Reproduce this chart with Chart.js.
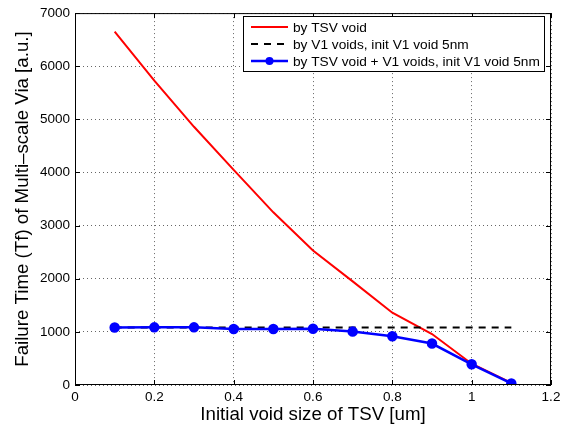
<!DOCTYPE html>
<html>
<head>
<meta charset="utf-8">
<script src="https://cdn.jsdelivr.net/npm/chart.js@4"></script>
<style>
  html, body { margin: 0; padding: 0; background: #fff; }
  #wrap { width: 569px; height: 427px; }
</style>
</head>
<body>
<div id="wrap"><canvas id="myChart" width="569" height="427"></canvas></div>
<script>
// void sizes (um)
const voidSize = [0.1, 0.2, 0.3, 0.4, 0.5, 0.6, 0.7, 0.8, 0.9, 1.0, 1.1];
// failure time, a.u.
const tsvOnly = [6650, 5730, 4860, 4050, 3250, 2530, 1950, 1360, 960, 400, 40];
const v1Only = [1080, 1080, 1080, 1080, 1080, 1080, 1080, 1080, 1080, 1080, 1080];
const combined = [1083, 1085, 1085, 1055, 1055, 1060, 1005, 916, 780, 390, 30];

const xTicks = [0, 0.2, 0.4, 0.6, 0.8, 1, 1.2];
const yTicks = [0, 1000, 2000, 3000, 4000, 5000, 6000, 7000];

const seriesLabels = [
  'by TSV void',
  'by V1 voids, init V1 void 5nm',
  'by TSV void + V1 voids, init V1 void 5nm'
];

const pts = ys => voidSize.map((x, i) => ({ x: x, y: ys[i] }));

const FONT = '"Liberation Sans", Arial, Helvetica, sans-serif';

// matlab style frame + inward ticks + legend inside the axes
const matlabBox = {
  id: 'matlabBox',
  afterDraw(chart) {
    const { ctx, chartArea: a, scales } = chart;
    ctx.save();
    ctx.strokeStyle = '#000';
    ctx.lineWidth = 1;
    ctx.strokeRect(a.left + 0.5, a.top + 0.5, a.right - a.left - 1, a.bottom - a.top - 1);

    ctx.beginPath();
    xTicks.forEach(v => {
      const px = Math.round(scales.x.getPixelForValue(v)) + 0.5;
      ctx.moveTo(px, a.bottom); ctx.lineTo(px, a.bottom - 5);
      ctx.moveTo(px, a.top); ctx.lineTo(px, a.top + 5);
    });
    yTicks.forEach(v => {
      const py = Math.round(scales.y.getPixelForValue(v)) + 0.5;
      ctx.moveTo(a.left, py); ctx.lineTo(a.left + 5, py);
      ctx.moveTo(a.right, py); ctx.lineTo(a.right - 5, py);
    });
    ctx.stroke();

    // legend
    const lx = 243, ly = 16, lw = 301, lh = 55;
    ctx.fillStyle = '#fff';
    ctx.fillRect(lx, ly, lw, lh);
    ctx.strokeRect(lx + 0.5, ly + 0.5, lw, lh);
    ctx.font = '13.7px ' + FONT;
    ctx.textBaseline = 'middle';
    chart.data.datasets.forEach((ds, i) => {
      const cy = ly + 11 + i * 17;
      ctx.beginPath();
      ctx.strokeStyle = ds.borderColor;
      ctx.lineWidth = ds.borderWidth;
      ctx.setLineDash(ds.borderDash || []);
      ctx.moveTo(251, cy); ctx.lineTo(288, cy);
      ctx.stroke();
      ctx.setLineDash([]);
      if (ds.pointRadius > 0) {
        ctx.beginPath();
        ctx.fillStyle = ds.pointBackgroundColor;
        ctx.arc(269.5, cy, ds.pointRadius, 0, Math.PI * 2);
        ctx.fill();
      }
      ctx.fillStyle = '#000';
      ctx.fillText(ds.label, 293, cy + 1);
    });
    ctx.restore();
  }
};

const ctx = document.getElementById('myChart');
new Chart(ctx, {
  type: 'line',
  data: {
    datasets: [{
      label: seriesLabels[0],
      data: pts(tsvOnly),
      borderColor: '#ff0000',
      borderWidth: 2,
      pointRadius: 0,
      order: 3,
    }, {
      label: seriesLabels[1],
      data: pts(v1Only),
      borderColor: '#000000',
      borderWidth: 2,
      borderDash: [7, 6],
      pointRadius: 0,
      order: 2,
    }, {
      label: seriesLabels[2],
      data: pts(combined),
      borderColor: '#0000ff',
      borderWidth: 2.5,
      pointRadius: 4,
      pointBackgroundColor: '#0000ff',
      pointBorderColor: '#0000ff',
      order: 1,
    }],
  },
  options: {
    responsive: false,
    animation: false,
    layout: { padding: { top: 8, right: 18, left: 0, bottom: 0 } },
    plugins: { legend: { display: false }, tooltip: { enabled: false } },
    scales: {
      x: {
        type: 'linear',
        min: 0,
        max: 1.2,
        afterBuildTicks: s => { s.ticks = xTicks.map(v => ({ value: v })); },
        afterFit: s => { s.height = 42; },
        grid: { color: '#666', drawTicks: false, lineWidth: 1 },
        border: { display: false, dash: [1, 3] },
        ticks: {
          padding: 4,
          color: '#000',
          font: { family: FONT, size: 13.5 },
          maxRotation: 0,
          callback: v => String(Number(v.toFixed(1))),
        },
        title: {
          display: true,
          text: 'Initial void size of TSV [um]',
          color: '#000',
          font: { family: FONT, size: 18.7 },
          padding: { top: 0, bottom: 1 },
        },
      },
      y: {
        min: 0,
        max: 7000,
        afterBuildTicks: s => { s.ticks = yTicks.map(v => ({ value: v })); },
        afterFit: s => { s.width = 75; },
        grid: { color: '#666', drawTicks: false, lineWidth: 1 },
        border: { display: false, dash: [1, 3] },
        ticks: {
          padding: 5,
          color: '#000',
          font: { family: FONT, size: 13.5 },
          callback: v => String(v),
        },
        title: {
          display: true,
          text: 'Failure Time (Tf) of Multi\u2013scale Via [a.u.]',
          color: '#000',
          font: { family: FONT, size: 18.7 },
          padding: { top: 12, bottom: 0 },
        },
      },
    },
  },
  plugins: [matlabBox],
});
</script>
</body>
</html>
